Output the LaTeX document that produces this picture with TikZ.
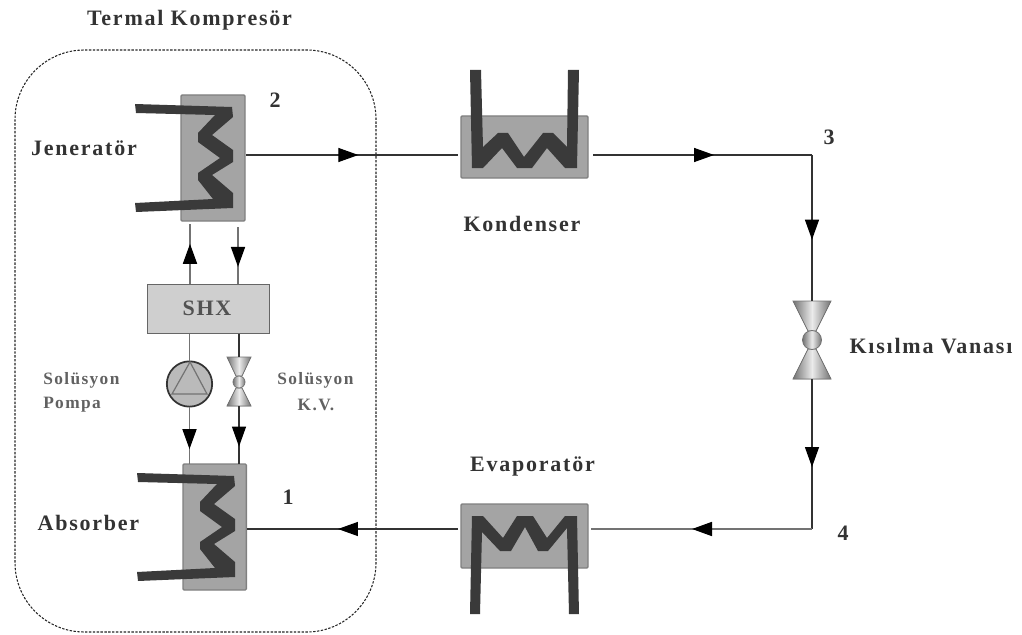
\documentclass[tikz,border=0pt]{standalone}
\usepackage{fontspec}
\setmainfont{Liberation Serif}
\newfontfamily\lblfont[LetterSpace=8]{Liberation Serif Bold}
\newfontfamily\smlfont[LetterSpace=8]{Liberation Serif Bold}
\usetikzlibrary{arrows.meta,decorations.markings}
\definecolor{ink}{HTML}{333333}
\definecolor{coil}{HTML}{3A3A3A}
\definecolor{hx}{HTML}{A4A4A4}
\definecolor{hxline}{HTML}{808080}
\definecolor{shxfill}{HTML}{CFCFCF}
\tikzset{
  hxbox/.style={draw=hxline,fill=hx,line width=1pt,inner sep=0pt,outer sep=0pt,rounded corners=0.8pt},
  coilshape/.style={fill=coil,draw=none},
  flow/.style={draw=ink,line width=0.9pt},
  flowgray/.style={draw=black!55,line width=1.3pt},
  tipat/.style={postaction={decorate},decoration={markings,mark=at position #1 with {\arrow{Triangle[length=15pt,width=10.5pt,color=black,fill=black]}}}},
  lbl/.style={font=\fontsize{16.5}{18}\lblfont,text=ink,inner sep=0pt},
  sml/.style={font=\fontsize{13}{15}\smlfont,text=black!62,inner sep=0pt},
  valveshape/.style={draw=black!55,line width=0.6pt,left color=black!55,right color=black!55,middle color=black!8},
  vnode/.style={inner sep=0pt,outer sep=0pt,minimum width=#1*0.75pt},
}
\begin{document}
\begin{tikzpicture}[x=0.75pt,y=-0.75pt]
\useasboundingbox (0,0) rectangle (1022,635);
% thermal compressor outline
\draw[dash pattern=on 1.8pt off 1.1pt,line width=0.8pt,draw=black!85,rounded corners=52pt] (15,50) rectangle (376,632);
\node[lbl] (tk) at (189.5,20) {Termal Kompresör};

% boxes
\node[hxbox,minimum width=48pt,minimum height=94.5pt,anchor=north west] (gen) at (181,95) {};
\node[hxbox,minimum width=47.5pt,minimum height=94.5pt,anchor=north west] (abs) at (183,464) {};
\node[hxbox,minimum width=95.25pt,minimum height=46.5pt,anchor=north west] (cond) at (461,116) {};
\node[hxbox,minimum width=95.25pt,minimum height=48pt,anchor=north west] (evap) at (461,504) {};
\node[draw=black!60,fill=shxfill,line width=1pt,minimum width=91.5pt,minimum height=36.75pt,inner sep=0pt,anchor=north west] (shx) at (147,284) {};
\node[font=\fontsize{16.5}{18}\lblfont,text=black!68,inner sep=0pt] (shxt) at (207,308) {SHX};

% coils
\foreach \dx/\dy in {0/0,2/369}{
\fill[coilshape,shift={(\dx,\dy)}] (135,104)--(232,107)--(233,117)--(212,135)--(233,150)--(233,162)--(212,175)--(233,193)--(233,208)--(136,212)--(135,203)--(213,199)--(198,180)--(198,173)--(220,158)--(198,142)--(198,133)--(215,115)--(136,113)--cycle;
}
\fill[coilshape] (470,70)--(481,70)--(483,147)--(498,133)--(508,133)--(524,157)--(543,133)--(553,133)--(567,147)--(568,70)--(579,70)--(577,168)--(565,168)--(547,148)--(532,168)--(517,168)--(502,148)--(483,168)--(472,168)--cycle;
\fill[coilshape] (472,516)--(483,516)--(503,538)--(517,516)--(533,516)--(547,538)--(565,516)--(577,516)--(579,614)--(569,614)--(567,528)--(548,551)--(538,551)--(525,527)--(511,551)--(500,551)--(482,532)--(480,614)--(470,614)--cycle;

% corners
\coordinate (c3) at (812,155);
\coordinate (c4) at (812,529);
\coordinate (gtop1) at (190,224);
\coordinate (gtop2) at (238,227);
\coordinate (gline) at (246,155);
\coordinate (cin) at (458,155);
\coordinate (cout) at (593,155);
\coordinate (eout) at (591,529);
\coordinate (ein) at (458,529);
\coordinate (aline) at (247,529);

% main valve
\node[vnode=38,minimum height=58.5pt] (valve) at (812,340) {};
\fill[valveshape] (793,301)--(831,301)--(816,331)--(808,331)--cycle;
\fill[valveshape] (793,379)--(831,379)--(816,349)--(808,349)--cycle;
\draw[valveshape] (812,340) circle (9.5);

% solution valve
\node[vnode=24,minimum height=36.75pt] (sv) at (239,381.5) {};
\fill[valveshape] (227,357)--(251,357)--(242,376)--(236,376)--cycle;
\fill[valveshape] (227,406)--(251,406)--(242,388)--(236,388)--cycle;
\draw[valveshape] (239,382) circle (6);

% pump
\node[circle,draw=ink,fill=black!27,line width=1.3pt,minimum size=34pt,inner sep=0pt,outer sep=0pt] (pump) at (189.5,384) {};
\draw[draw=black!55,line width=0.9pt] (190,362)--(207,394)--(172,394)--cycle;

% connectors
\draw[flow,tipat=0.53] (gline) -- (cin);
\draw[flow,tipat=0.553] (cout) -- (c3);
\draw[flow,tipat=0.58] (c3) -- (valve.north);
\draw[flow,tipat=0.587] (valve.south) -- (c4);
\draw[flowgray,tipat=0.543] (c4) -- (eout);
\draw[flow,tipat=0.569] (ein) -- (aline);
\draw[flowgray,tipat=0.67] (shx.north -| gtop1) -- (gtop1);
\draw[flowgray,tipat=0.70] (gtop2) -- (shx.north -| gtop2);
\draw[flowgray] (shx.south -| pump) -- (pump.north);
\draw[flow] (shx.south -| sv) -- (sv.north);
\draw[flowgray,tipat=0.74] (pump.south) -- (abs.north -| pump);
\draw[flow,tipat=0.70] (sv.south) -- (abs.north -| sv);

% labels
\node[lbl] (l2) at (275,100) {2};
\node[lbl] (l3) at (829,137) {3};
\node[lbl] (l4) at (843,533) {4};
\node[lbl] (l1) at (288,497) {1};
\node[lbl] (ljen) at (84,148) {Jeneratör};
\node[lbl] (lkon) at (522,224) {Kondenser};
\node[lbl] (lkis) at (931,346) {Kısılma Vanası};
\node[lbl] (leva) at (532.5,466) {Evaporatör};
\node[lbl] (labs) at (88.5,523) {Absorber};
\node[sml,anchor=west] (ls1) at (43,380) {Solüsyon};
\node[sml,anchor=west] (lp) at (43,405) {Pompa};
\node[sml,anchor=west] (ls2) at (277,380) {Solüsyon};
\node[sml] (lkv) at (316,405) {K.V.};
\end{tikzpicture}
\end{document}
